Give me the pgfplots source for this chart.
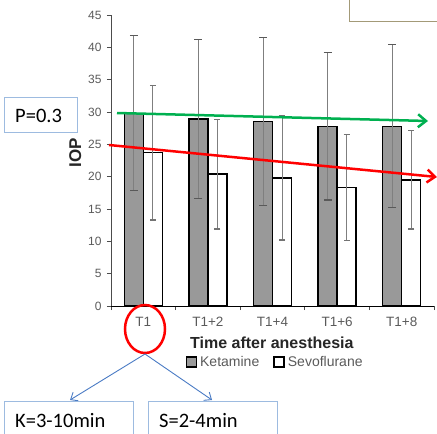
\documentclass[border=0pt]{standalone}
\usepackage{pgfplots}
\pgfplotsset{compat=1.18}
\usepackage{fontspec}
\setmainfont{Liberation Sans}
\newfontfamily\calibri{Carlito}
\usetikzlibrary{arrows.meta}
\definecolor{ketgray}{HTML}{999999}
\definecolor{txtgray}{HTML}{5A5A5A}
\definecolor{errgray}{HTML}{7F7F7F}
\definecolor{boxblue}{HTML}{9DBBE0}
\definecolor{boxbrown}{HTML}{A39A78}
\definecolor{arrblue}{HTML}{4A7BC4}
\definecolor{trendgreen}{HTML}{00B050}

\begin{document}
\begin{tikzpicture}[x=1pt,y=-1pt]
\path[use as bounding box] (0,0) rectangle (437,434);
\begin{axis}[
  at={(111pt,-306pt)}, anchor=south west,
  scale only axis, width=323pt, height=291pt,
  ybar=0pt, bar width=19pt,
  xmin=-0.5, xmax=4.5, ymin=0, ymax=45,
  xtick={0,...,4}, xticklabels={T1,T1+2,T1+4,T1+6,T1+8},
  minor xtick={-0.5,0.5,1.5,2.5,3.5,4.5},
  major x tick style={draw=none},
  ytick={0,5,...,45},
  /pgf/number format/assume math mode=true,
  axis x line*=bottom, axis y line*=left,
  x axis line style={black, line width=1pt},
  y axis line style={black!70, line width=1pt},
  tick align=outside, major tick length=4pt, minor tick length=4pt,
  tick style={black!70, line width=0.8pt},
  yticklabel style={font=\fontsize{12}{12}\selectfont, text=txtgray, xshift=-2pt},
  xticklabel style={font=\fontsize{13.5}{14}\selectfont, text=txtgray, yshift=-4pt},
  xlabel={Time after anesthesia},
  xlabel style={at={(0.498,-0.127)}, anchor=center, font=\bfseries\fontsize{16}{16}\selectfont, text=black!85},
  ylabel={IOP},
  ylabel style={at={(-0.111,0.526)}, anchor=center, font=\bfseries\fontsize{17}{17}\selectfont, text=black!85},
  legend style={at={(0.508,-0.192)}, anchor=center, draw=none, fill=none,
    legend columns=2, font=\fontsize{14}{14}\selectfont, text=txtgray,
    /tikz/every even column/.append style={column sep=12pt},
    /tikz/every odd column/.append style={column sep=1pt}},
  legend cell align=left,
]
\addplot[fill=ketgray, draw=black, line width=1.4pt,
  legend image code/.code={\draw[fill=ketgray, draw=black, line width=1.6pt] (0pt,-5pt) rectangle (10pt,5pt);},
  error bars/.cd, y dir=both, y explicit,
  error bar style={line width=1pt, color=errgray},
  error mark options={rotate=90, mark size=4pt, line width=1.2pt, color=black!65}]
  coordinates {
  (0,29.8) +- (0,12.0)
  (1,28.9) +- (0,12.3)
  (2,28.5) +- (0,13.0)
  (3,27.8) +- (0,11.4)
  (4,27.8) +- (0,12.6)
  };
\addlegendentry{Ketamine}
\addplot[fill=white, draw=black, line width=1.4pt,
  legend image code/.code={\draw[fill=white, draw=black, line width=1.6pt] (0pt,-5pt) rectangle (10pt,5pt);},
  error bars/.cd, y dir=both, y explicit,
  error bar style={line width=1pt, color=errgray},
  error mark options={rotate=90, mark size=3pt, line width=1.2pt, color=black!55}]
  coordinates {
  (0,23.7) +- (0,10.4)
  (1,20.4) +- (0,8.5)
  (2,19.8) +- (0,9.6)
  (3,18.3) +- (0,8.2)
  (4,19.5) +- (0,7.6)
  };
\addlegendentry{Sevoflurane}
\end{axis}

% trend arrows
\draw[trendgreen, line width=2.5pt, -{Straight Barb[length=8pt,width=13pt]}] (117,113) -- (428,121);
\draw[red, line width=2.5pt, -{Straight Barb[length=8pt,width=13pt]}] (109,145) -- (437,177);

% annotation boxes
\draw[boxbrown, line width=1pt] (349,-5) rectangle (445,21);
\draw[boxblue, line width=1pt] (4,97) rectangle (77,132);
\node[anchor=base west, inner sep=0pt, font=\calibri\fontsize{20.5}{22}\selectfont] at (15,122) {P=0.3};

\draw[red, line width=2.5pt] (145,329) ellipse [x radius=20, y radius=24];
\draw[arrblue, line width=0.9pt, -{Straight Barb[length=6pt,width=10pt]}] (145,354) -- (70,400);
\draw[arrblue, line width=0.9pt, -{Straight Barb[length=6pt,width=10pt]}] (145,354) -- (212,400);

\draw[boxblue, line width=1pt] (4,401) rectangle (133,440);
\node[anchor=base west, inner sep=0pt, font=\calibri\fontsize{20.5}{22}\selectfont] at (15,427) {K=3-10min};
\draw[boxblue, line width=1pt] (148,401) rectangle (277,440);
\node[anchor=base west, inner sep=0pt, font=\calibri\fontsize{20.5}{22}\selectfont] at (159,427) {S=2-4min};
\end{tikzpicture}
\end{document}
